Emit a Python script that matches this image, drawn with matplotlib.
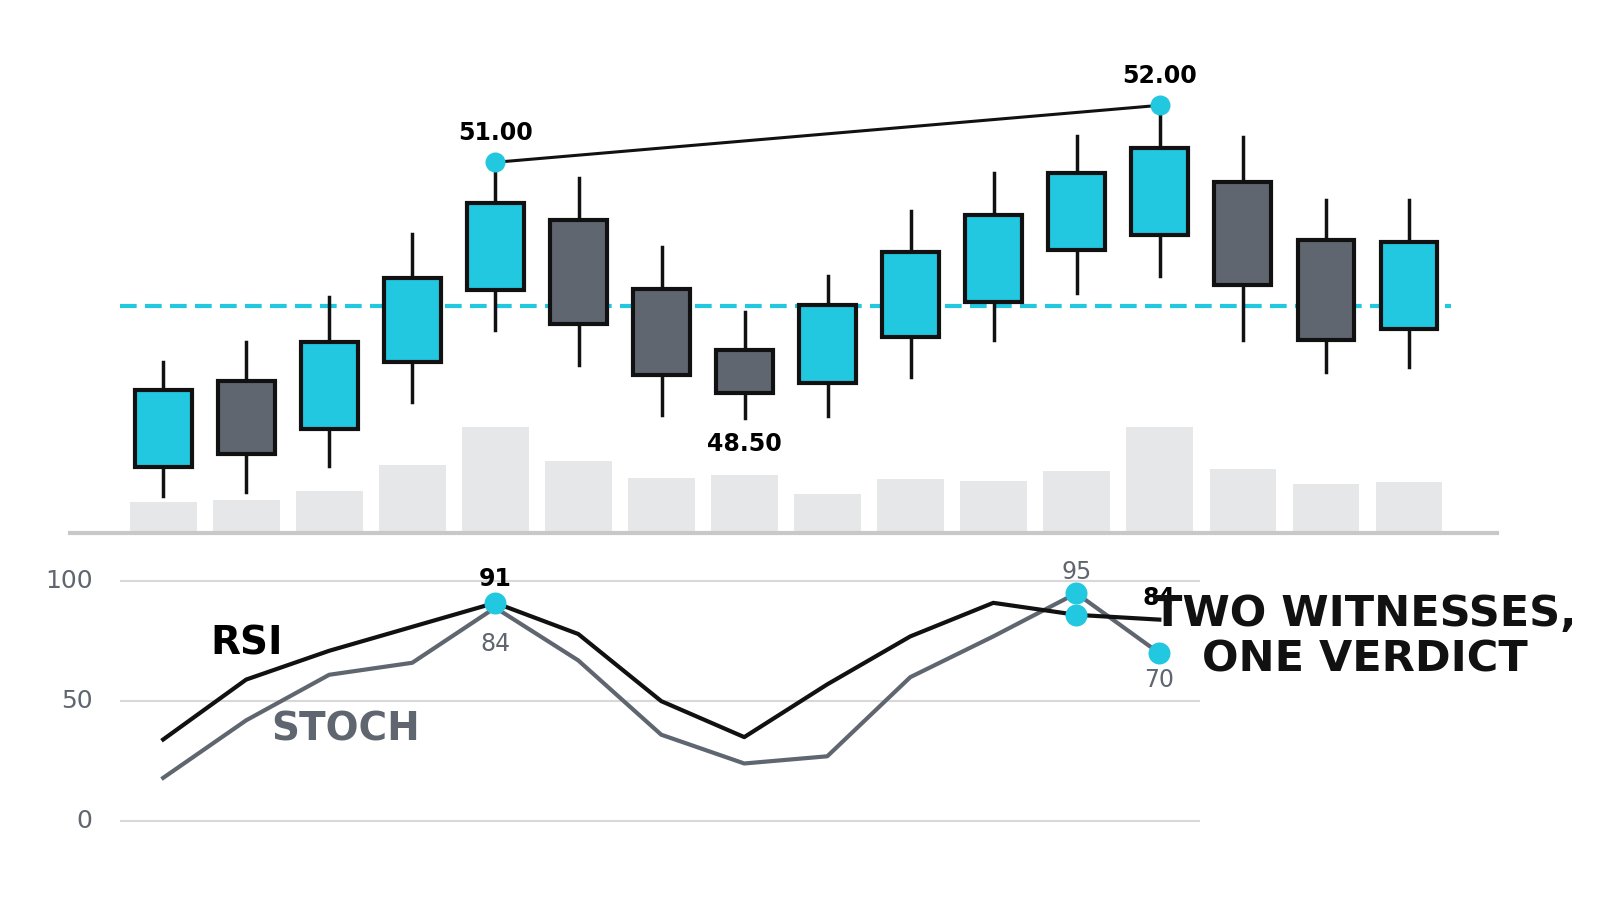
import numpy as np
import matplotlib.pyplot as plt
from matplotlib.patches import Rectangle

# candle data (price units)
opens  = [45.65, 47.16, 46.32, 47.49, 48.75, 49.98, 48.77, 47.70, 47.12, 47.93, 48.54, 49.46, 49.72, 50.65, 49.63, 48.07]
highs  = [47.49, 47.84, 48.63, 49.74, 51.00, 50.72, 49.51, 48.37, 49.00, 50.14, 50.82, 51.47, 52.00, 51.44, 50.33, 50.33]
lows   = [45.14, 45.21, 45.67, 46.79, 48.05, 47.44, 46.56, 46.51, 46.54, 47.23, 47.88, 48.70, 49.00, 47.88, 47.32, 47.40]
closes = [47.00, 45.88, 47.84, 48.96, 50.28, 48.16, 47.26, 46.95, 48.49, 49.42, 50.07, 50.82, 51.25, 48.84, 47.88, 49.60]
volume = [30, 32, 41, 67, 105, 71, 54, 57, 38, 53, 51, 61, 105, 63, 48, 50]
level = 48.47

rsi   = [34, 59, 71, 81, 91, 78, 50, 35, 57, 77, 91, 86, 84]
stoch = [18, 42, 61, 66, 89, 67, 36, 24, 27, 60, 77, 95, 70]

CYAN = '#22c7e0'
GRAY = '#5f6670'
VOL = '#e6e7e9'
FAM = ['Liberation Sans Narrow', 'DejaVu Sans']
FONT = dict(family=FAM, fontweight='bold')
FONT_N = dict(family=FAM)

fig = plt.figure(figsize=(16, 9.14), dpi=100)

# ---- price panel ----
ax = fig.add_axes([0.044, 0.418, 0.892, 0.516])
axv = ax.twinx()
axv.set_ylim(0, 472)
x = np.arange(len(opens))
axv.bar(x, volume, width=0.8, color=VOL, zorder=0)
ax.set_zorder(axv.get_zorder() + 1)
ax.patch.set_visible(False)

for i in range(len(opens)):
    o, h, l, c = opens[i], highs[i], lows[i], closes[i]
    col = CYAN if c >= o else GRAY
    ax.plot([i, i], [l, h], color='#111111', lw=2.5, zorder=2)
    ax.add_patch(Rectangle((i - 0.34, min(o, c)), 0.68, abs(c - o),
                           facecolor=col, edgecolor='#111111', lw=3, zorder=3))

ax.axhline(level, xmin=0.035, xmax=0.967, color=CYAN, lw=3, ls=(0, (4, 2)), zorder=1)
ax.plot([4, 12], [highs[4], highs[12]], color='#111111', lw=2.2, zorder=4)
ax.scatter([4, 12], [highs[4], highs[12]], s=180, color=CYAN, zorder=5)
ax.text(4, highs[4] + 0.3, '51.00', ha='center', va='bottom', fontsize=17, **FONT)
ax.text(12, highs[12] + 0.3, '52.00', ha='center', va='bottom', fontsize=17, **FONT)
ax.text(7, lows[7] - 0.25, '48.50', ha='center', va='top', fontsize=17, **FONT)

ax.set_xlim(-1.12, 16.07)
ax.set_ylim(44.51, 52.79)
axv.set_xlim(-1.12, 16.07)
for a in (ax, axv):
    a.axis('off')
fig.add_artist(plt.Line2D([70 / 1600, 1497 / 1600], [1 - 533 / 914] * 2, color='#c8c8c8', lw=3))

# ---- oscillator panel ----
bx = fig.add_axes([0.075, 0.081, 0.675, 0.306])
xo = np.arange(len(rsi))
for v in (0, 50, 100):
    bx.axhline(v, color='#d8d8d8', lw=1.5, zorder=0)
    bx.text(-0.85, v, str(v), ha='right', va='center', fontsize=18, color=GRAY, **FONT_N)
bx.plot(xo, stoch, color=GRAY, lw=3, zorder=2)
bx.plot(xo, rsi, color='#111111', lw=3, zorder=3)
bx.scatter([4, 11, 11, 12], [rsi[4], stoch[11], rsi[11], stoch[12]], s=220, color=CYAN, zorder=4)
bx.text(4, 96, '91', ha='center', va='bottom', fontsize=17, **FONT)
bx.text(4, 79, '84', ha='center', va='top', fontsize=17, color=GRAY, **FONT_N)
bx.text(11, 99, '95', ha='center', va='bottom', fontsize=17, color=GRAY, **FONT_N)
bx.text(12, 88, '84', ha='center', va='bottom', fontsize=17, **FONT)
bx.text(12, 64, '70', ha='center', va='top', fontsize=17, color=GRAY, **FONT_N)
bx.text(1, 74, 'RSI', ha='center', va='center', fontsize=28, **FONT)
bx.text(2.2, 38, 'STOCH', ha='center', va='center', fontsize=28, color=GRAY, **FONT)
bx.set_xlim(-0.52, 12.49)
bx.set_ylim(-7.9, 108.75)
bx.axis('off')

fig.text(1365 / 1600, 1 - 637 / 914, 'TWO WITNESSES,\nONE VERDICT', ha='center', va='center',
         fontsize=31, linespacing=1.1, color='#111111', **FONT)

fig.savefig('out.png', dpi=100, facecolor='white')
